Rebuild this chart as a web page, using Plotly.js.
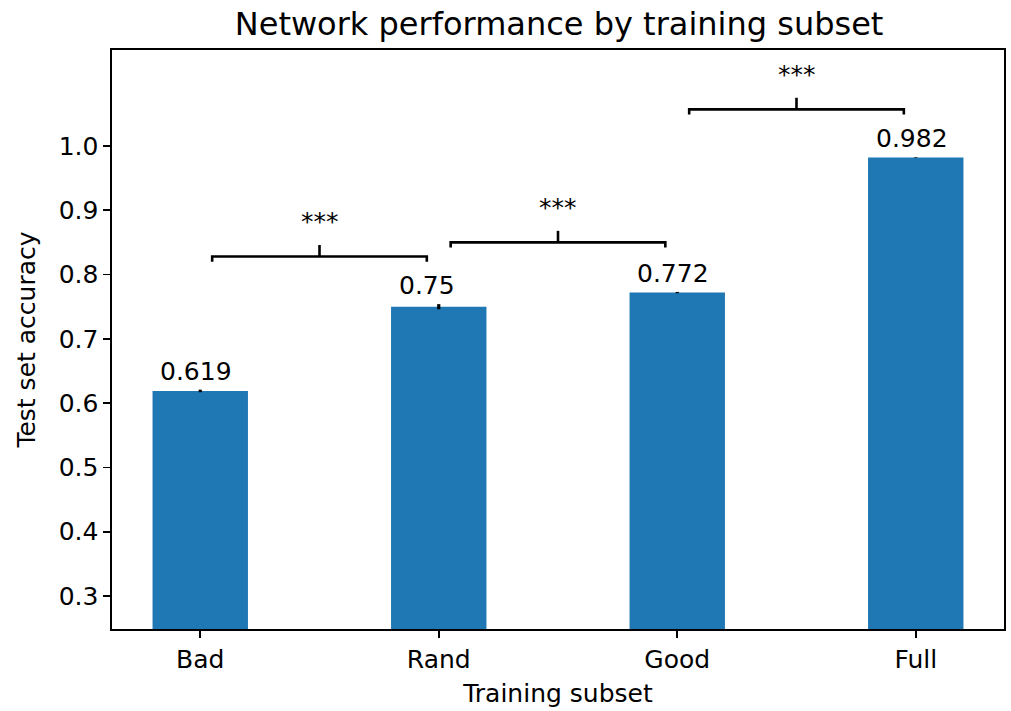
<!DOCTYPE html>
<html>
<head>
<meta charset="utf-8">
<script src="https://cdn.plot.ly/plotly-3.0.1.min.js"></script>
<style>html,body{margin:0;padding:0;background:#fff;}#chart{width:1011px;height:711px;}</style>
</head>
<body>
<div id="chart"></div>
<script>
// Data
const categories = ["Bad", "Rand", "Good", "Full"];
const accuracy = [0.619, 0.75, 0.772, 0.982];
const accuracyErr = [0.002, 0.004, 0.001, 0.0005];
const valueLabels = ["0.619", "0.75", "0.772", "0.982"];
const comparisonPairs = [[0, 1], [1, 2], [2, 3]];
const bracketHeights = [0.828, 0.850, 1.057];
const significance = ["***", "***", "***"];

const FONT = "DejaVu Sans, Liberation Sans, sans-serif";
const xIdx = categories.map((_, i) => i);

const traces = [{
  type: "bar",
  x: xIdx,
  y: accuracy,
  width: 0.4,
  marker: {color: "#1f77b4", line: {width: 0}},
  error_y: {type: "data", array: accuracyErr, visible: true, color: "#000", thickness: 3.2, width: 0},
  hoverinfo: "skip",
  showlegend: false
}];

const annotations = [];
accuracy.forEach((v, i) => {
  annotations.push({
    x: xIdx[i], y: v + accuracyErr[i], xref: "x", yref: "y",
    text: valueLabels[i], showarrow: false,
    xanchor: "left", yanchor: "bottom", xshift: -42, yshift: 2,
    font: {family: FONT, size: 25, color: "#000"}
  });
});

const drop = 0.008, rise = 0.018, inset = 0.05;
comparisonPairs.forEach((p, k) => {
  const h = bracketHeights[k];
  const x0 = p[0] + inset, x1 = p[1] - inset, xm = (p[0] + p[1]) / 2;
  traces.push({
    type: "scatter", mode: "lines",
    x: [x0, x0, x1, x1, null, xm, xm],
    y: [h - drop, h, h, h - drop, null, h, h + rise],
    line: {color: "#000", width: 2.6},
    hoverinfo: "skip", showlegend: false
  });
  annotations.push({
    x: xm, y: h + rise, xref: "x", yref: "y",
    text: significance[k], showarrow: false,
    xanchor: "center", yanchor: "bottom", yshift: 7,
    font: {family: FONT, size: 25, color: "#000"}
  });
});

const layout = {
  width: 1011, height: 711,
  margin: {l: 112, r: 7, t: 50, b: 82},
  paper_bgcolor: "#fff", plot_bgcolor: "#fff",
  font: {family: FONT, color: "#000"},
  title: {text: "Network performance by training subset", font: {family: FONT, size: 32, color: "#000"},
          x: 0.553, xanchor: "center", y: 0.967, yanchor: "middle"},
  xaxis: {
    range: [-0.37, 3.37], tickvals: xIdx, ticktext: categories,
    showgrid: false, zeroline: false, showline: true, mirror: true,
    linecolor: "#000", linewidth: 1.6, ticks: "outside", ticklen: 7, tickwidth: 1.6, tickcolor: "#000",
    tickfont: {family: FONT, size: 25, color: "#000"},
    title: {text: "Training subset", font: {family: FONT, size: 25, color: "#000"}, standoff: 12}
  },
  yaxis: {
    range: [0.2487, 1.1493], tickvals: [0.3,0.4,0.5,0.6,0.7,0.8,0.9,1.0],
    ticktext: ["0.3","0.4","0.5","0.6","0.7","0.8","0.9","1.0"],
    showgrid: false, zeroline: false, showline: true, mirror: true,
    linecolor: "#000", linewidth: 1.6, ticks: "outside", ticklen: 7, tickwidth: 1.6, tickcolor: "#000",
    tickfont: {family: FONT, size: 25, color: "#000"},
    title: {text: "Test set accuracy", font: {family: FONT, size: 25, color: "#000"}, standoff: 16}
  },
  annotations: annotations
};

Plotly.newPlot("chart", traces, layout, {displayModeBar: false, staticPlot: true});
</script>
</body>
</html>
